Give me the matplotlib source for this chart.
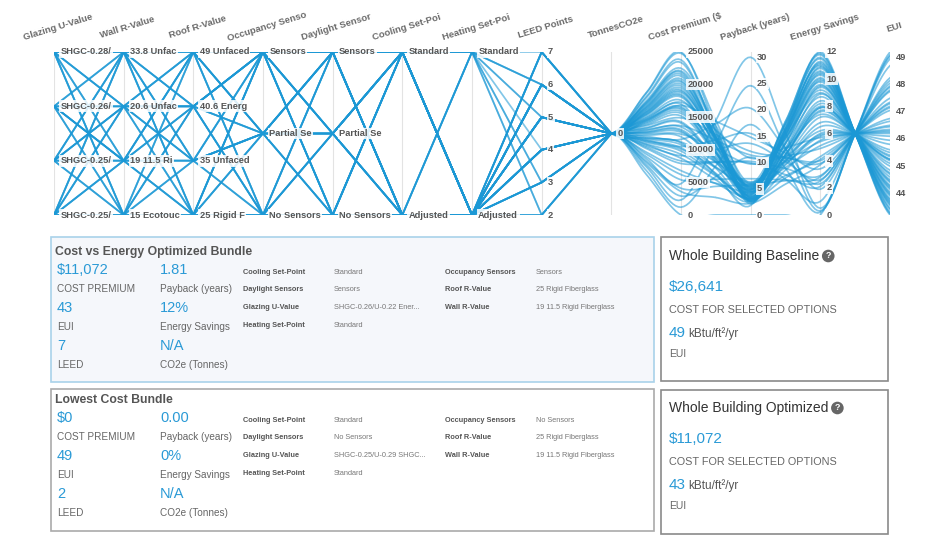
import numpy as np
import matplotlib
matplotlib.use('Agg')
import matplotlib.pyplot as plt
from matplotlib.patches import Rectangle

plt.rcParams['font.family'] = ['Liberation Sans', 'DejaVu Sans']

BLUE = '#2a9ad6'
LINE = '#1b98d5'

AXIS_TITLES = ['Glazing U-Value', 'Wall R-Value', 'Roof R-Value', 'Occupancy Senso',
               'Daylight Sensor', 'Cooling Set-Poi', 'Heating Set-Poi', 'LEED Points',
               'TonnesCO2e', 'Cost Premium ($', 'Payback (years)', 'Energy Savings', 'EUI']

GLAZING_LEVELS = ['SHGC-0.28/', 'SHGC-0.26/', 'SHGC-0.25/', 'SHGC-0.25/']
WALL_LEVELS = ['33.8 Unfac', '20.6 Unfac', '19 11.5 Ri', '15 Ecotouc']
ROOF_LEVELS = ['49 Unfaced', '40.6 Energ', '35 Unfaced', '25 Rigid F']
SENSOR_LEVELS = ['Sensors', 'Partial Se', 'No Sensors']
SETPOINT_LEVELS = ['Standard', 'Adjusted']
LEED_TICKS = [2, 3, 4, 5, 6, 7]
COST_TICKS = [0, 5000, 10000, 15000, 20000, 25000]
PAYBACK_TICKS = [0, 5, 10, 15, 20, 25, 30]
SAVINGS_TICKS = [0, 2, 4, 6, 8, 10, 12]
EUI_TICKS = [44, 45, 46, 47, 48, 49]

# one entry per design option bundle (category index counted from the top level)
glazing = [1, 3, 0, 2, 0, 3, 1, 2, 0, 3, 1, 2, 0, 3, 1, 2, 0, 3, 1, 2, 0, 3, 1, 2, 0, 3, 1, 2, 0, 3, 1, 2,
           0, 3, 1, 2, 0, 3, 1, 2, 0, 3, 1, 2, 0, 3, 1, 2, 0, 3, 1, 2, 0, 3, 1, 2, 0, 3, 1, 2, 0, 3, 1, 2]
wall = [2, 2, 0, 1, 0, 3, 2, 0, 3, 1, 3, 2, 1, 0, 1, 3, 2, 2, 0, 1, 3, 1, 2, 0, 0, 3, 1, 2, 1, 0, 3, 1,
        2, 1, 0, 3, 0, 2, 2, 0, 3, 0, 1, 2, 1, 3, 3, 1, 0, 2, 2, 3, 1, 0, 0, 2, 3, 1, 1, 0, 2, 3, 2, 1]
roof = [3, 3, 0, 1, 1, 2, 0, 3, 2, 0, 1, 2, 3, 1, 2, 0, 1, 0, 3, 2, 3, 1, 1, 0, 2, 3, 0, 1, 0, 2, 3, 3,
        2, 1, 2, 1, 0, 2, 3, 1, 1, 3, 1, 0, 2, 0, 2, 0, 3, 1, 2, 3, 1, 0, 1, 3, 0, 2, 3, 2, 0, 1, 0, 1]
occupancy = [0, 2, 0, 1, 0, 2, 1, 0, 2, 0, 2, 1, 0, 2, 0, 1, 2, 0, 1, 0, 1, 2, 0, 2, 1, 0, 1, 0, 2, 1, 0, 2,
             0, 0, 2, 0, 1, 1, 2, 1, 0, 1, 1, 2, 1, 0, 1, 0, 2, 0, 1, 1, 0, 1, 0, 0, 2, 1, 2, 0, 1, 1, 0, 2]
daylight = [0, 2, 0, 1, 2, 0, 1, 0, 1, 2, 2, 0, 1, 0, 0, 2, 0, 1, 1, 2, 0, 1, 0, 2, 1, 0, 2, 1, 0, 2, 1, 0,
            2, 0, 1, 0, 0, 1, 2, 0, 2, 1, 0, 1, 2, 1, 1, 0, 2, 2, 0, 1, 1, 0, 2, 0, 1, 0, 1, 1, 2, 0, 1, 2]
cooling = [0, 0, 0, 1, 0, 1, 0, 1, 0, 1, 0, 1, 0, 1, 0, 1, 0, 1, 0, 1, 1, 0, 1, 0, 1, 0, 1, 0, 1, 0, 0, 1,
           1, 0, 1, 0, 1, 0, 1, 1, 0, 1, 0, 1, 0, 1, 0, 0, 1, 0, 1, 0, 1, 1, 0, 1, 0, 1, 1, 0, 1, 0, 0, 1]
heating = [0, 0, 1, 1, 0, 1, 1, 0, 1, 1, 0, 1, 1, 0, 1, 1, 0, 1, 1, 0, 1, 1, 1, 1, 1, 1, 0, 1, 1, 1, 1, 1,
           1, 1, 1, 1, 1, 1, 1, 1, 1, 1, 1, 0, 1, 1, 1, 1, 1, 1, 1, 1, 1, 1, 1, 1, 1, 1, 1, 1, 1, 1, 0, 1]
leed = [7, 2, 6, 5, 6, 3, 4, 6, 4, 5, 2, 5, 7, 3, 6, 4, 5, 5, 6, 4, 3, 2, 7, 4, 6, 5, 5, 6, 4, 3, 5, 3,
        6, 6, 4, 5, 7, 4, 2, 5, 5, 4, 6, 3, 5, 6, 4, 7, 3, 6, 5, 4, 7, 5, 6, 6, 3, 4, 3, 7, 5, 4, 6, 2]
cost = [11072, 0, 24800, 18500, 21300, 6200, 15200, 19800, 9800, 16400, 4800, 13100, 22500, 7900, 20100, 12400,
        10300, 17600, 21900, 14300, 3600, 2300, 19200, 16800, 23400, 8700, 17300, 18100, 14900, 11600, 9300, 5400,
        16200, 19500, 13700, 15600, 25000, 10800, 1200, 20600, 12900, 14100, 18800, 9100, 17000, 16600, 11200, 22100,
        8300, 15900, 13500, 6800, 20900, 21600, 19000, 12000, 10500, 12700, 4100, 23800, 18300, 10100, 20400, 2900]
payback = [1.81, 0, 5.2, 3.4, 2.8, 4.4, 4.5, 3.9, 3.0, 5.6, 30.0, 4.8, 6.1, 10.2, 4.9, 9.7,
           3.1, 5.9, 2.5, 3.6, 2.2, 24.6, 4.1, 14.8, 2.7, 2.6, 10.8, 4.3, 12.1, 20.3, 3.3, 6.9,
           3.7, 5.0, 11.4, 4.6, 2.4, 4.9, 17.2, 3.2, 4.0, 2.9, 5.4, 13.6, 3.1, 4.2, 6.3, 5.1,
           9.9, 3.8, 5.7, 3.5, 4.7, 2.6, 5.3, 2.9, 15.5, 6.0, 5.8, 2.1, 3.3, 5.5, 4.4, 11.0]
savings = [12.0, 0, 11.8, 8.4, 9.9, 4.1, 5.8, 11.2, 4.3, 9.2, 0.5, 8.7, 11.0, 2.9, 10.5, 4.9,
           7.6, 9.0, 8.9, 6.5, 3.7, 0.3, 11.6, 3.4, 9.5, 7.9, 5.7, 10.1, 3.8, 1.9, 8.2, 2.5,
           10.8, 10.3, 4.0, 9.6, 11.3, 5.1, 0.2, 7.2, 8.0, 5.5, 9.8, 2.6, 7.7, 10.0, 5.4, 11.5,
           2.1, 10.4, 7.4, 6.0, 11.9, 7.9, 10.6, 9.4, 2.3, 6.2, 2.8, 10.9, 6.8, 5.9, 11.1, 1.0]
eui = [43.2, 49.2, 43.3, 45.0, 44.25, 47.15, 46.3, 43.6, 47.05, 44.6, 48.95, 44.85, 43.7, 47.75, 43.95, 46.75,
       45.4, 44.7, 44.75, 45.95, 47.35, 49.05, 43.4, 47.5, 44.45, 45.25, 46.35, 44.15, 47.3, 48.25, 45.1, 47.95,
       43.8, 44.05, 47.2, 44.4, 43.55, 46.65, 49.1, 45.6, 45.2, 46.45, 44.3, 47.9, 45.35, 44.2, 46.5, 43.45,
       48.15, 44.0, 45.5, 46.2, 43.25, 45.25, 43.9, 44.5, 48.05, 46.1, 47.8, 43.75, 45.8, 46.25, 43.65, 48.7]
tonnes = [0] * len(cost)

cols = [glazing, wall, roof, occupancy, daylight, cooling, heating, leed, tonnes, cost, payback, savings, eui]
assert all(len(c) == len(cost) for c in cols), [len(c) for c in cols]

# panels text
opt_values = ['$11,072', '1.81', '43', '12%', '7', 'N/A']
low_values = ['$0', '0.00', '49', '0%', '2', 'N/A']
value_labels = ['COST PREMIUM', 'Payback (years)', 'EUI', 'Energy Savings', 'LEED', 'CO2e (Tonnes)']
opt_left = [('Cooling Set-Point', 'Standard'), ('Daylight Sensors', 'Sensors'),
            ('Glazing U-Value', 'SHGC-0.26/U-0.22 Ener...'), ('Heating Set-Point', 'Standard')]
opt_right = [('Occupancy Sensors', 'Sensors'), ('Roof R-Value', '25 Rigid Fiberglass'),
             ('Wall R-Value', '19 11.5 Rigid Fiberglass')]
low_left = [('Cooling Set-Point', 'Standard'), ('Daylight Sensors', 'No Sensors'),
            ('Glazing U-Value', 'SHGC-0.25/U-0.29 SHGC...'), ('Heating Set-Point', 'Standard')]
low_right = [('Occupancy Sensors', 'No Sensors'), ('Roof R-Value', '25 Rigid Fiberglass'),
             ('Wall R-Value', '19 11.5 Rigid Fiberglass')]
baseline_cost, baseline_eui = '$26,641', '49'
optimized_cost, optimized_eui = '$11,072', '43'


def cat_norm(vals, n):
    return [1 - v / (n - 1) for v in vals]


def num_norm(vals, lo, hi):
    return [(v - lo) / (hi - lo) for v in vals]


norm = [cat_norm(glazing, 4), cat_norm(wall, 4), cat_norm(roof, 4), cat_norm(occupancy, 3),
        cat_norm(daylight, 3), cat_norm(cooling, 2), cat_norm(heating, 2), num_norm(leed, 2, 7),
        [0.5 for _ in tonnes], num_norm(cost, 0, 25000), num_norm(payback, 0, 31),
        num_norm(savings, 0, 12), num_norm(eui, 43.2, 49.2)]
norm = np.array(norm)


def catmull(px, py, steps=14):
    xs, ys = [], []
    for i in range(1, len(px) - 2):
        t = np.linspace(0, 1, steps)
        for arr, p in ((xs, px), (ys, py)):
            p0, p1, p2, p3 = p[i - 1], p[i], p[i + 1], p[i + 2]
            arr.extend(0.5 * (2 * p1 + (-p0 + p2) * t + (2 * p0 - 5 * p1 + 4 * p2 - p3) * t ** 2
                              + (-p0 + 3 * p1 - 3 * p2 + p3) * t ** 3))
    return xs, ys


fig = plt.figure(figsize=(9.4, 5.49), dpi=100)
bg = fig.add_axes([0, 0, 1, 1])
bg.set_xlim(0, 940)
bg.set_ylim(549, 0)
bg.axis('off')

ax = fig.add_axes([54 / 940, 1 - 215 / 549, (890 - 54) / 940, (215 - 52) / 549])
ax.set_xlim(0, 12)
ax.set_ylim(0, 1)
ax.axis('off')
ax.patch.set_alpha(0)

for i in range(13):
    ax.plot([i, i], [0, 1], color='#e3e3e3', lw=0.8, zorder=1)

for r in range(norm.shape[1]):
    v = norm[:, r]
    # straight segments over the option axes
    xs = list(range(0, 9))
    ys = list(v[:9])
    # smoothed path through axis values and segment midpoints for the result axes
    px = [7.5]
    py = [(v[7] + v[8]) / 2]
    for i in range(8, 13):
        px.append(i)
        py.append(v[i])
        if i < 12:
            px.append(i + 0.5)
            py.append((v[i] + v[i + 1]) / 2)
    px.append(12.5)
    py.append(2 * v[12] - py[-1])
    sx, sy = catmull(px, py)
    ax.plot(xs + sx, ys + sy, color=LINE, lw=1.25, alpha=0.55, zorder=2, solid_capstyle='round')

lab_kw = dict(textcoords='offset points', ha='left', va='center', fontsize=6.7, weight='bold',
              color='#555555', zorder=5, annotation_clip=False,
              bbox=dict(boxstyle='square,pad=0.15', fc='white', ec='none', alpha=0.85))

for i, levels in enumerate([GLAZING_LEVELS, WALL_LEVELS, ROOF_LEVELS, SENSOR_LEVELS, SENSOR_LEVELS,
                            SETPOINT_LEVELS, SETPOINT_LEVELS]):
    n = len(levels)
    for k, name in enumerate(levels):
        ax.annotate(name, (i, 1 - k / (n - 1)), xytext=(4.5, 0), **lab_kw)

for i, ticks, lo, hi in [(7, LEED_TICKS, 2, 7), (9, COST_TICKS, 0, 25000), (10, PAYBACK_TICKS, 0, 31),
                         (11, SAVINGS_TICKS, 0, 12), (12, EUI_TICKS, 43.2, 49.2)]:
    for t in ticks:
        ax.annotate(str(t), (i, (t - lo) / (hi - lo)), xytext=(4.5, 0), **lab_kw)
ax.annotate('0', (8, 0.5), xytext=(4.5, 0), **lab_kw)

for i, title in enumerate(AXIS_TITLES):
    ax.annotate(title, (i, 1), xytext=(3, 18), textcoords='offset points', ha='center', va='center',
                rotation=17, fontsize=6.8, weight='bold', color='#6a6a6a', annotation_clip=False)


def bundle_panel(rect, y0, title, values, left, right, face, edge):
    bg.add_patch(Rectangle((rect[0], rect[1]), rect[2], rect[3], fc=face, ec=edge, lw=1.2))
    bg.text(55, y0 + 14, title, fontsize=8.8, weight='bold', color='#555555', va='center')
    for k, (val, lab) in enumerate(zip(values, value_labels)):
        x = 57 + (k % 2) * 103
        yv = y0 + 32 + (k // 2) * 38
        bg.text(x, yv, val, fontsize=10.5, color=BLUE, va='center')
        bg.text(x, yv + 19, lab, fontsize=7.2, color='#666666', va='center')
    for xs, items in ((243, left), (445, right)):
        for k, (name, val) in enumerate(items):
            y = y0 + 34 + k * 17.7
            bg.text(xs, y, name, fontsize=5.3, weight='bold', color='#555555', va='center')
            bg.text(xs + 91, y, val, fontsize=5.3, color='#777777', va='center')


bundle_panel((51, 237, 603, 145), 238, 'Cost vs Energy Optimized Bundle', opt_values, opt_left, opt_right,
             '#f5f7fb', '#a9d2ea')
bundle_panel((51, 389, 603, 142), 386, 'Lowest Cost Bundle', low_values, low_left, low_right,
             'white', '#aaaaaa')


def building_panel(rect, y0, title, cost_val, eui_val):
    bg.add_patch(Rectangle((rect[0], rect[1]), rect[2], rect[3], fc='white', ec='#8a8a8a', lw=1.2))
    t = bg.text(669, y0 + 18, title, fontsize=10, color='#333333', va='center')
    fig.canvas.draw()
    bb = t.get_window_extent().transformed(bg.transData.inverted())
    bg.text(bb.x1 + 9, y0 + 18, '?', fontsize=6.5, weight='bold', color='white', ha='center', va='center',
            bbox=dict(boxstyle='circle,pad=0.2', fc='#666666', ec='none'))
    bg.text(669, y0 + 49, cost_val, fontsize=11, color=BLUE, va='center')
    bg.text(669, y0 + 72, 'COST FOR SELECTED OPTIONS', fontsize=7.8, color='#666666', va='center')
    e = bg.text(669, y0 + 95, eui_val, fontsize=11, color=BLUE, va='center')
    fig.canvas.draw()
    bb = e.get_window_extent().transformed(bg.transData.inverted())
    bg.text(bb.x1 + 2, y0 + 96, 'kBtu/ft²/yr', fontsize=8.5, color='#555555', va='center')
    bg.text(669, y0 + 116, 'EUI', fontsize=7.5, color='#666666', va='center')


building_panel((661, 237, 227, 144), 238, 'Whole Building Baseline', baseline_cost, baseline_eui)
building_panel((661, 390, 227, 144), 390, 'Whole Building Optimized', optimized_cost, optimized_eui)

fig.savefig('out.png', dpi=100, facecolor='white')
